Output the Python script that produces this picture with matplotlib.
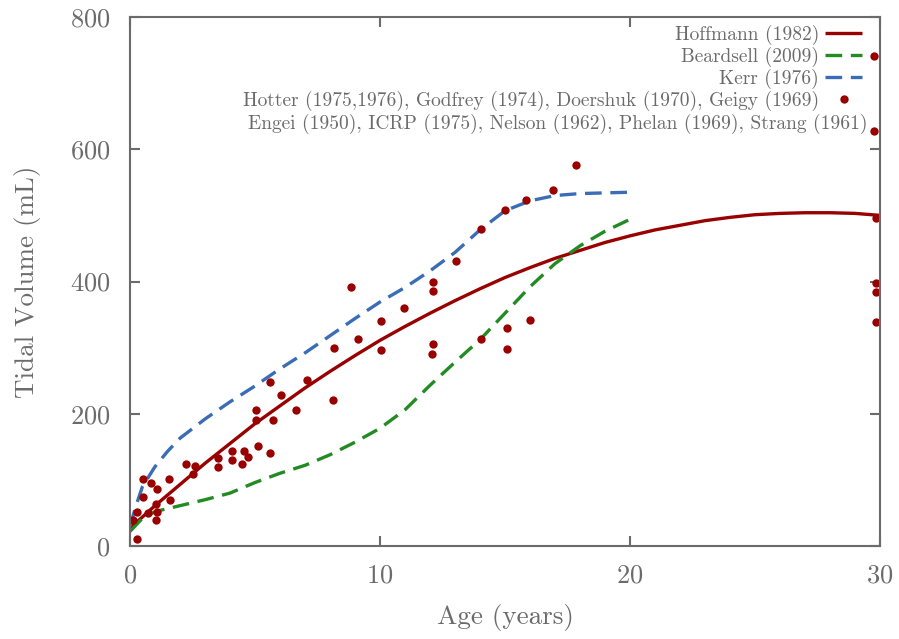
import matplotlib
matplotlib.use("Agg")
import matplotlib.pyplot as plt

plt.rcParams.update({
    "font.family": "serif",
    "font.serif": ["cmr10"],
    "mathtext.fontset": "cm",
    "axes.formatter.use_mathtext": True,
    "axes.unicode_minus": False,
})

# Reference curves (age in years, tidal volume in mL)
hoffmann_age = [0, 1, 2, 3, 4, 5, 6, 7, 8, 9, 10, 11, 12, 13, 14, 15, 16, 17, 18, 19, 20,
                21, 22, 23, 24, 25, 26, 27, 28, 29, 30]
hoffmann_vt = [27, 61, 93, 125, 155, 185, 212, 239, 264, 288, 311, 332, 352, 371, 389, 406,
               421, 435, 447, 459, 469, 478, 485, 492, 497, 501, 503, 504, 504, 503, 500]

beardsell_age = [0, 0.5, 1, 2, 3, 4, 5, 6, 7, 8, 9, 10, 11, 12, 13, 14, 15, 16, 17, 18, 19, 20]
beardsell_vt = [22, 42, 52, 61, 70, 80, 96, 110, 122, 138, 157, 178, 206, 243, 278, 312, 352,
                392, 427, 454, 476, 494]

kerr_age = [0, 0.25, 0.5, 1, 1.5, 2, 3, 4, 5, 6, 7, 8, 9, 10, 11, 12, 13, 14, 15, 16, 17, 18,
            19, 20]
kerr_vt = [30, 62, 90, 120, 143, 163, 192, 218, 242, 268, 292, 318, 344, 369, 391, 416, 444,
           478, 507, 522, 530, 533, 534, 535]

# Measured tidal volumes
obs_age = [0.13, 0.29, 0.29, 0.53, 0.53, 0.71, 0.83, 1.03, 1.07, 1.04, 1.09, 1.57, 1.6,
           2.24, 2.6, 2.53, 3.51, 3.51, 4.09, 4.56, 4.09, 4.71, 4.49, 5.11, 5.6, 5.04, 5.04,
           5.73, 5.6, 6.04, 6.63, 7.08, 8.11, 8.15, 9.11, 10.05, 8.83, 10.04, 10.97, 12.11,
           12.11, 12.11, 12.08, 13.04, 14.03, 14.04, 15.0, 15.07, 15.07, 15.85, 16.0, 16.93,
           17.85, 29.75, 29.75, 29.85, 29.85, 29.85, 29.85]
obs_vt = [39, 10, 52, 74, 101, 50, 96, 39, 52, 64, 86, 101, 69, 124, 121, 109, 133, 120,
          143, 144, 130, 135, 124, 151, 141, 205, 190, 190, 248, 229, 205, 251, 221, 299, 313,
          297, 392, 341, 360, 400, 385, 305, 291, 431, 479, 313, 508, 329, 298, 524, 342, 539,
          576, 741, 627, 496, 397, 384, 339]

x_ticks = [0, 10, 20, 30]
y_ticks = [0, 200, 400, 600, 800]

gray = "#6b6b6b"
red = "#990000"
green = "#238b23"
blue = "#3a6db5"

fig = plt.figure(figsize=(8.99, 6.39), dpi=100)
ax = fig.add_axes([130 / 899, 93 / 639, 750 / 899, 529 / 639])

ax.plot(hoffmann_age, hoffmann_vt, color=red, lw=2.4, solid_capstyle="butt",
        label="Hoffmann (1982)")
ax.plot(beardsell_age, beardsell_vt, color=green, lw=2.4, linestyle=(0, (5, 2.6)),
        label="Beardsell (2009)")
ax.plot(kerr_age, kerr_vt, color=blue, lw=2.4, linestyle=(0, (5, 2.6)),
        label="Kerr (1976)")
ax.plot(obs_age, obs_vt, linestyle="none", marker="o", markersize=6, color=red,
        markeredgewidth=0, clip_on=False,
        label="Hotter (1975,1976), Godfrey (1974), Doershuk (1970), Geigy (1969)")

ax.set_xlim(0, 30)
ax.set_ylim(0, 800)
ax.set_xticks(x_ticks)
ax.set_yticks(y_ticks)
ax.tick_params(direction="in", length=7, width=1.5, colors=gray, labelsize=19,
               top=True, right=True)
ax.tick_params(axis="y", pad=14)
ax.tick_params(axis="x", pad=13)
for s in ax.spines.values():
    s.set_color(gray)
    s.set_linewidth(1.5)

ax.set_xlabel("Age (years)", fontsize=19.5, color=gray, labelpad=12)
ax.set_ylabel("Tidal Volume (mL)", fontsize=19.5, color=gray, labelpad=21)

leg = ax.legend(loc="upper right", frameon=False, markerfirst=False, fontsize=14,
                handlelength=1.9, handletextpad=0.3, labelspacing=0.1, numpoints=1,
                borderaxespad=0.0, borderpad=0.0, bbox_to_anchor=(0.976, 0.985))
for t in leg.get_texts():
    t.set_color(gray)

ax.text(0.984, 0.798, "Engei (1950), ICRP (1975), Nelson (1962), Phelan (1969), Strang (1961)",
        transform=ax.transAxes, ha="right", va="center", fontsize=14, color=gray)

fig.savefig("out.png", dpi=100)
